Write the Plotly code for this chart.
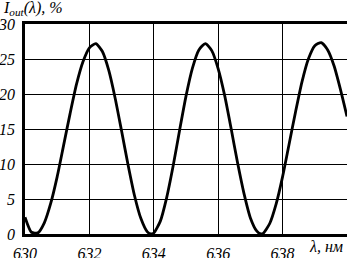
import plotly.graph_objects as go

# Wavelength (nm) and output intensity (%)
wavelength = [630.0, 630.2, 630.4, 630.6, 630.8, 631.0, 631.2, 631.4, 631.6, 631.8,
              632.0, 632.2, 632.4, 632.6, 632.8, 633.0, 633.2, 633.4, 633.6, 633.8,
              633.92, 634.0, 634.2, 634.4, 634.6, 634.8, 635.0, 635.2, 635.4, 635.6,
              635.8, 636.0, 636.2, 636.4, 636.6, 636.8, 637.0, 637.2, 637.33, 637.4,
              637.6, 637.8, 638.0, 638.2, 638.4, 638.6, 638.8, 639.0, 639.2, 639.4,
              639.6, 639.8, 640.0]
intensity = [2.4, 0.25, 0.16, 1.6, 4.4, 8.2, 12.7, 17.2, 21.4, 24.6,
             26.6, 27.2, 26.1, 23.4, 19.4, 14.7, 9.9, 5.5, 2.2, 0.3,
             0.0, 0.15, 1.8, 5.2, 9.7, 14.8, 19.7, 23.7, 26.3, 27.2,
             26.2, 23.6, 19.8, 15.1, 10.2, 5.8, 2.3, 0.4, 0.0, 0.1,
             1.5, 4.3, 8.2, 12.8, 17.4, 21.7, 25.0, 26.9, 27.35, 26.3,
             24.0, 20.6, 16.8]

x_ticks = [630, 632, 634, 636, 638]
y_ticks = [0, 5, 10, 15, 20, 25, 30]

font_family = "Liberation Serif"

fig = go.Figure()
fig.add_trace(go.Scatter(
    x=wavelength, y=intensity, mode="lines",
    line=dict(color="black", width=2.8, shape="spline", smoothing=0.6),
    hoverinfo="skip", showlegend=False,
))

fig.update_layout(
    width=347, height=258,
    margin=dict(l=25, r=0, t=24, b=24, autoexpand=False),
    paper_bgcolor="white", plot_bgcolor="white",
    font=dict(family=font_family, size=16, color="black"),
    xaxis=dict(
        range=[630, 640], tickvals=x_ticks, ticktext=[f"<i>{v}</i>" for v in x_ticks],
        showgrid=True, gridcolor="black", gridwidth=1,
        showline=True, linecolor="black", linewidth=2.5, mirror=True,
        ticks="", zeroline=False, automargin=False, ticklabelstandoff=3,
        tickfont=dict(family=font_family, size=16, color="black"),
    ),
    yaxis=dict(
        range=[0, 30], tickvals=y_ticks, ticktext=[f"<i>{v}</i>" for v in y_ticks],
        showgrid=True, gridcolor="black", gridwidth=1,
        showline=True, linecolor="black", linewidth=2.5, mirror=False,
        ticks="", zeroline=False, ticklabelstandoff=4, automargin=False,
        tickfont=dict(family=font_family, size=16, color="black"),
    ),
    annotations=[
        dict(text="<i>I<sub>out</sub>(λ), %</i>", xref="paper", yref="paper",
             x=0, y=1, xanchor="left", yanchor="bottom", xshift=-24, yshift=4,
             showarrow=False,
             font=dict(family=font_family, size=16, color="black")),
        dict(text="<i>λ, нм</i>", xref="paper", yref="paper",
             x=1, y=0, xanchor="right", yanchor="top", xshift=-2, yshift=-2,
             showarrow=False,
             font=dict(family=font_family, size=16, color="black")),
    ],
)

fig.write_html("out.html", config={"displayModeBar": False},
               post_script="document.body.style.margin='0';document.body.style.padding='0';")
